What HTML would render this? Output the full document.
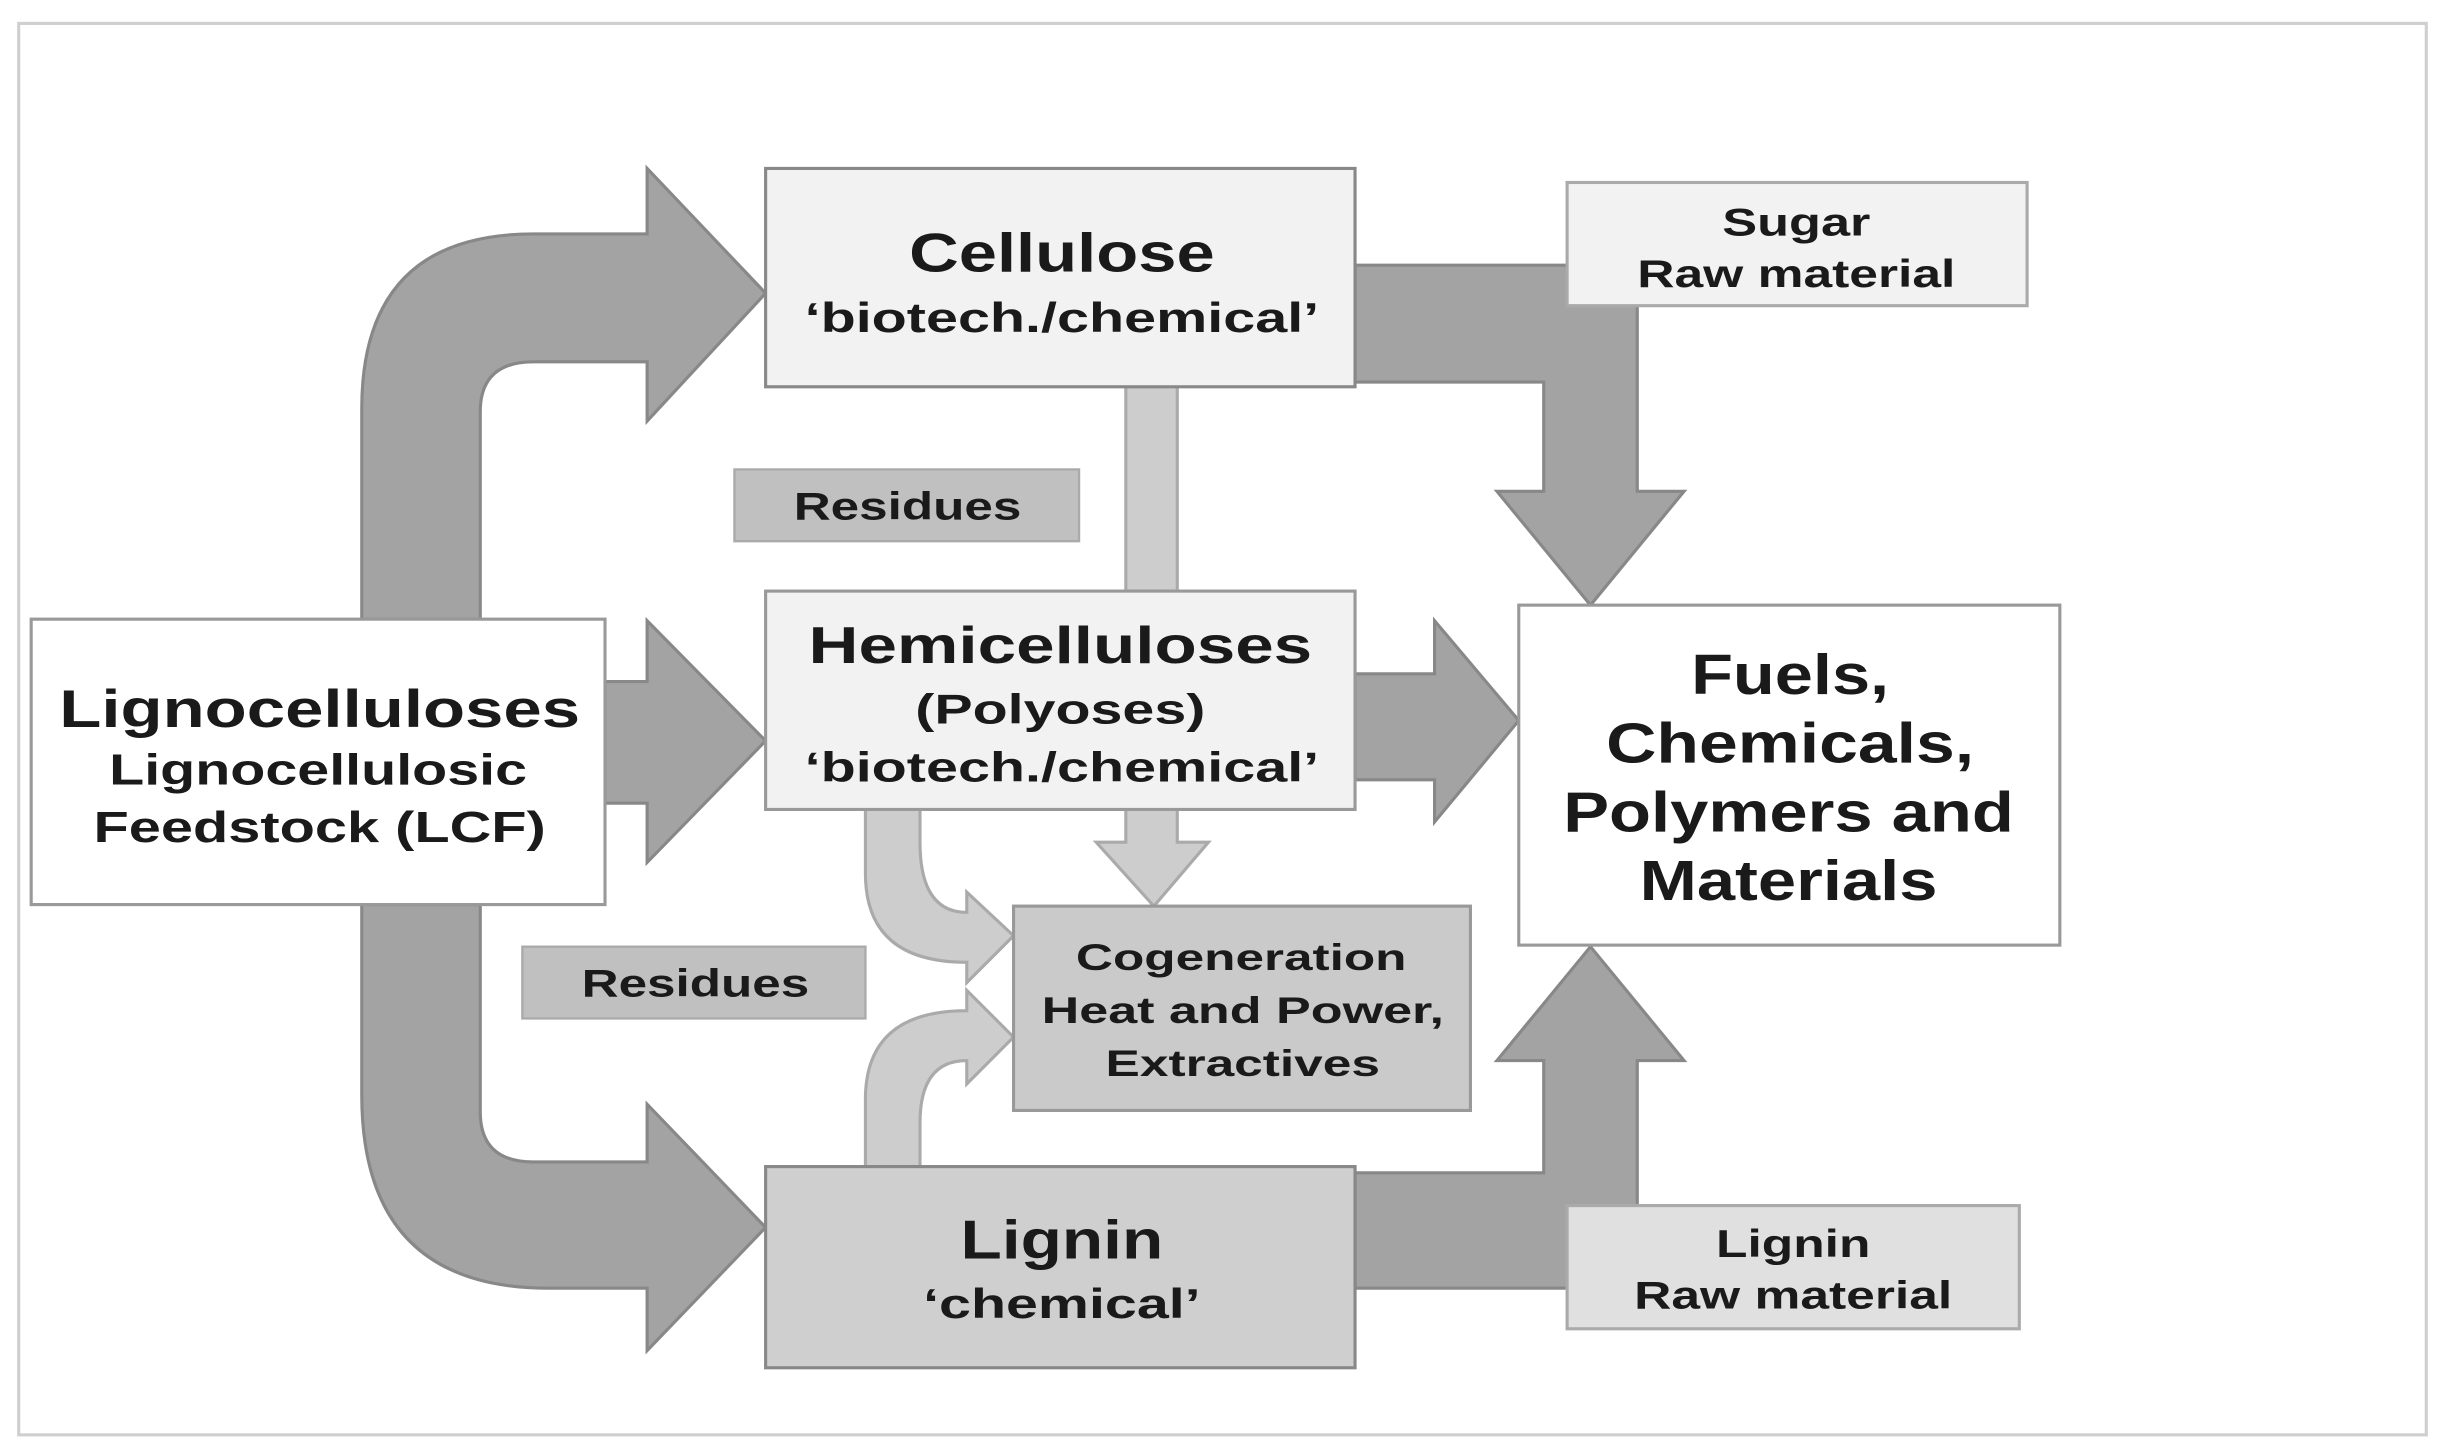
<!DOCTYPE html>
<html><head><meta charset="utf-8"><style>
html,body{margin:0;padding:0;background:#fff;}
svg{display:block;}
text{font-family:"Liberation Sans",Arial,sans-serif;font-weight:bold;fill:#1a1a1a;text-anchor:middle;}
</style></head><body>
<svg width="2445" height="1452" viewBox="0 0 1568 931" preserveAspectRatio="none" xmlns="http://www.w3.org/2000/svg">
<rect x="12" y="15" width="1544" height="905" fill="#fff" stroke="#cfcfcf" stroke-width="2"/>
<g fill="#a3a3a3" stroke="#888" stroke-width="2">
<path d="M232,397 L232,262 Q232,150 342,150 L415,150 L415,108 L491,188 L415,270 L415,232 L342,232 Q308,232 308,264 L308,397 Z"/>
<path d="M232,580 L232,702 Q232,826 352,826 L415,826 L415,866 L491,787 L415,708 L415,745 L342,745 Q308,745 308,713 L308,580 Z"/>
<path d="M388,437 L415,437 L415,398 L491,475 L415,553 L415,515 L388,515 Z"/>
<path d="M869,170 L1050,170 L1050,315 L1080,315 L1020,388 L960,315 L990,315 L990,245 L869,245 Z"/>
<path d="M869,432 L920,432 L920,398 L974,462 L920,527 L920,500 L869,500 Z"/>
<path d="M869,826 L1050,826 L1050,680 L1080,680 L1020,607 L960,680 L990,680 L990,752 L869,752 Z"/>
</g>
<g fill="#cdcdcd" stroke="#aaa" stroke-width="2">
<rect x="722" y="246" width="33" height="135"/>
<path d="M722,519 L755,519 L755,540 L775,540 L740,581 L703,540 L722,540 Z"/>
<path d="M555,519 L590,519 L590,540 Q590,585 620,585 L620,572 L650,600 L620,630 L620,617 Q555,617 555,560 Z"/>
<path d="M555,748 L590,748 L590,720 Q590,680 620,680 L620,695 L650,665 L620,635 L620,648 Q555,648 555,705 Z"/>
</g>
<rect x="20" y="397" width="368" height="183" fill="#fff" stroke="#999" stroke-width="2"/>
<rect x="491" y="108" width="378" height="140" fill="#f2f2f2" stroke="#888" stroke-width="2"/>
<rect x="491" y="379" width="378" height="140" fill="#f2f2f2" stroke="#999" stroke-width="2"/>
<rect x="491" y="748" width="378" height="129" fill="#cfcfcf" stroke="#888" stroke-width="2"/>
<rect x="650" y="581" width="293" height="131" fill="#cacaca" stroke="#999" stroke-width="2"/>
<rect x="974" y="388" width="347" height="218" fill="#fff" stroke="#999" stroke-width="2"/>
<rect x="1005" y="117" width="295" height="79" fill="#f2f2f2" stroke="#aaa" stroke-width="2"/>
<rect x="1005" y="773" width="290" height="79" fill="#e0e0e0" stroke="#aaa" stroke-width="2"/>
<rect x="471" y="301" width="221" height="46" fill="#c0c0c0" stroke="#aaa" stroke-width="1.5"/>
<rect x="335" y="607" width="220" height="46" fill="#c0c0c0" stroke="#aaa" stroke-width="1.5"/>
<g lengthAdjust="spacingAndGlyphs">
<text x="205" y="466" font-size="34" textLength="334" lengthAdjust="spacingAndGlyphs">Lignocelluloses</text>
<text x="204" y="503" font-size="28" textLength="268" lengthAdjust="spacingAndGlyphs">Lignocellulosic</text>
<text x="205" y="540" font-size="28" textLength="290" lengthAdjust="spacingAndGlyphs">Feedstock (LCF)</text>
<text x="681" y="174" font-size="35" textLength="196" lengthAdjust="spacingAndGlyphs">Cellulose</text>
<text x="681" y="213" font-size="27" textLength="330" lengthAdjust="spacingAndGlyphs">‘biotech./chemical’</text>
<text x="680" y="425" font-size="33" textLength="323" lengthAdjust="spacingAndGlyphs">Hemicelluloses</text>
<text x="680" y="464" font-size="27" textLength="186" lengthAdjust="spacingAndGlyphs">(Polyoses)</text>
<text x="681" y="501" font-size="27" textLength="330" lengthAdjust="spacingAndGlyphs">‘biotech./chemical’</text>
<text x="681" y="807" font-size="35" textLength="130" lengthAdjust="spacingAndGlyphs">Lignin</text>
<text x="681" y="845" font-size="27" textLength="178" lengthAdjust="spacingAndGlyphs">‘chemical’</text>
<text x="796" y="622" font-size="24" textLength="212" lengthAdjust="spacingAndGlyphs">Cogeneration</text>
<text x="797" y="656" font-size="24" textLength="258" lengthAdjust="spacingAndGlyphs">Heat and Power,</text>
<text x="797" y="690" font-size="24" textLength="176" lengthAdjust="spacingAndGlyphs">Extractives</text>
<text x="1148" y="445" font-size="36" textLength="127" lengthAdjust="spacingAndGlyphs">Fuels,</text>
<text x="1148" y="489" font-size="36" textLength="236" lengthAdjust="spacingAndGlyphs">Chemicals,</text>
<text x="1147" y="533" font-size="36" textLength="289" lengthAdjust="spacingAndGlyphs">Polymers and</text>
<text x="1147" y="577" font-size="36" textLength="191" lengthAdjust="spacingAndGlyphs">Materials</text>
<text x="1152" y="151" font-size="25" textLength="95" lengthAdjust="spacingAndGlyphs">Sugar</text>
<text x="1152" y="184" font-size="25" textLength="204" lengthAdjust="spacingAndGlyphs">Raw material</text>
<text x="1150" y="806" font-size="25" textLength="99" lengthAdjust="spacingAndGlyphs">Lignin</text>
<text x="1150" y="839" font-size="25" textLength="204" lengthAdjust="spacingAndGlyphs">Raw material</text>
<text x="582" y="333" font-size="25" textLength="146" lengthAdjust="spacingAndGlyphs">Residues</text>
<text x="446" y="639" font-size="25" textLength="146" lengthAdjust="spacingAndGlyphs">Residues</text>
</g>
</svg>
</body></html>
